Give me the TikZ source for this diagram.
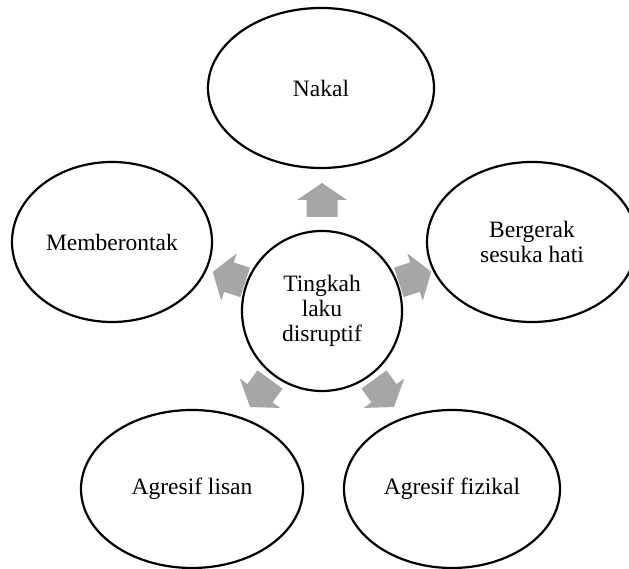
\documentclass[tikz,border=0pt]{standalone}
\usepackage{fontspec}
\setmainfont{Liberation Serif}
\usetikzlibrary{calc,shapes.geometric}
\definecolor{arrowgray}{HTML}{A6A6A6}
\begin{document}
\begin{tikzpicture}[x=1pt,y=1pt,
  bubble/.style={draw=black, line width=2.2pt, fill=white, ellipse, inner sep=0pt,
    align=center, font=\fontsize{23.5}{25}\selectfont},
  hub/.style={draw=black, line width=2.2pt, fill=white, circle, minimum size=160pt, inner sep=0pt,
    align=center, font=\fontsize{23.5}{25}\selectfont},
  blockarrow/.pic={\fill[arrowgray] (-17,-15.5) -- (0,-15.5) -- (0,-25) -- (17,0) -- (0,25) -- (0,15.5) -- (-17,15.5) -- cycle;}
]
\useasboundingbox (0,0) rectangle (629,569);
\node[hub] (c) at (322,258) {Tingkah\\laku\\disruptif};
\node[bubble, minimum width=226pt, minimum height=160pt] (nakal) at (321,481) {Nakal};
\node[bubble, minimum width=200pt, minimum height=160pt] (mem) at (112,327) {Memberontak};
\node[bubble, minimum width=210pt, minimum height=160pt] (ber) at (532,327) {Bergerak\\sesuka hati};
\node[bubble, minimum width=222pt, minimum height=158pt] (lisan) at (192,80) {Agresif lisan};
\node[bubble, minimum width=216pt, minimum height=158pt] (fiz) at (452,80) {Agresif fizikal};
\pic[rotate=90] (a1) at ($(c)+(90:111)$) {blockarrow};
\pic[rotate=162] (a2) at ($(c)+(160:99)$) {blockarrow};
\pic[rotate=18] (a3) at ($(c)+(20:99)$) {blockarrow};
\pic[rotate=234] (a4) at ($(c)+(233:103)$) {blockarrow};
\pic[rotate=306] (a5) at ($(c)+(307:103)$) {blockarrow};
\end{tikzpicture}
\end{document}
